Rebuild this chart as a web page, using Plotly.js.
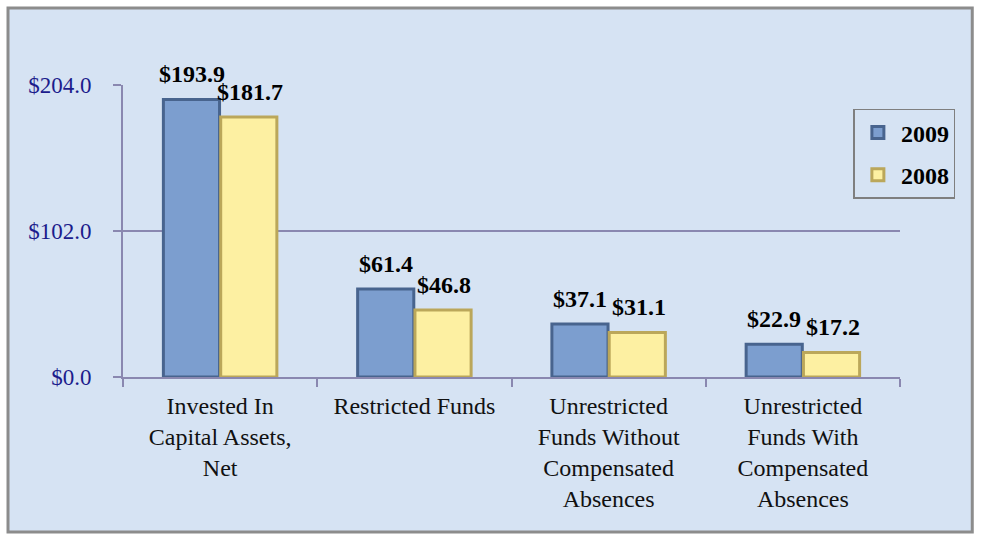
<!DOCTYPE html>
<html>
<head>
<meta charset="utf-8">
<script src="https://cdn.plot.ly/plotly-3.0.1.min.js"></script>
<style>html,body{margin:0;padding:0;background:#fff;}#chart{width:981px;height:535px;}</style>
</head>
<body>
<div id="chart"></div>
<script>
var categories = ["Invested In<br>Capital Assets,<br>Net", "Restricted Funds", "Unrestricted<br>Funds Without<br>Compensated<br>Absences", "Unrestricted<br>Funds With<br>Compensated<br>Absences"];
var values2009 = [193.9, 61.4, 37.1, 22.9];
var values2008 = [181.7, 46.8, 31.1, 17.2];
var yTicks = [0, 102, 204];
var yTickText = yTicks.map(function (v) { return "$" + v.toFixed(1); });

var serif = "Liberation Serif";
var labelFont = {family: serif, size: 24, color: "#000", weight: "bold"};

var t2009 = {
  type: "bar", name: "2009", x: categories, y: values2009,
  marker: {color: "#7c9ecf", line: {color: "#48648e", width: 3}},
  legendgroup: "a", hoverinfo: "skip"
};
var t2008 = {
  type: "bar", name: "2008", x: categories, y: values2008,
  marker: {color: "#fdf0a2", line: {color: "#bba75a", width: 3}},
  legendgroup: "b", hoverinfo: "skip"
};

function valueLabels(vals, xshift) {
  return vals.map(function (v, i) {
    return {
      x: categories[i], y: v, xref: "x", yref: "y",
      text: "$" + v.toFixed(1), showarrow: false,
      xanchor: "center", yanchor: "bottom", xshift: xshift, yshift: 10,
      font: labelFont
    };
  });
}

var layout = {
  width: 981, height: 535,
  margin: {l: 123, r: 81, t: 85, b: 158},
  paper_bgcolor: "#ffffff",
  plot_bgcolor: "rgba(0,0,0,0)",
  font: {family: serif},
  barmode: "group", bargap: 0.41, bargroupgap: 0.02,
  showlegend: true,
  legend: {
    x: 0.94, y: 0.918, xanchor: "left", yanchor: "top",
    bgcolor: "rgba(0,0,0,0)", bordercolor: "#7f7f7f", borderwidth: 1.5,
    font: {family: serif, size: 24, color: "#000", weight: "bold"},
    traceorder: "grouped", tracegroupgap: 8, itemwidth: 36
  },
  xaxis: {
    type: "category", tickson: "boundaries", ticks: "outside", ticklen: 8,
    tickcolor: "#8a88b0", tickwidth: 2,
    showline: true, linecolor: "#8a88b0", linewidth: 2,
    tickfont: {family: serif, size: 24, color: "#111"},
    ticklabelstandoff: 6,
    showgrid: false, fixedrange: true
  },
  yaxis: {
    range: [0, 204], tickvals: yTicks, ticktext: yTickText,
    ticks: "outside", ticklen: 8, tickcolor: "#8a88b0", tickwidth: 2,
    showline: true, linecolor: "#8a88b0", linewidth: 2,
    showgrid: true, gridcolor: "#8a88b0", gridwidth: 1.5,
    zeroline: false, ticklabelstandoff: 17,
    tickfont: {family: serif, size: 23, color: "#1c1c8c"},
    fixedrange: true
  },
  annotations: valueLabels(values2009, -28.6).concat(valueLabels(values2008, 30)),
  shapes: [{
    type: "rect", xref: "paper", yref: "paper", layer: "below",
    x0: -0.148, x1: 1.093, y0: -0.531, y1: 1.264,
    fillcolor: "#d6e3f3", line: {color: "#8c8c8c", width: 3}
  }]
};

Plotly.newPlot("chart", [t2009, t2008], layout, {displayModeBar: false, staticPlot: true});
</script>
</body>
</html>
